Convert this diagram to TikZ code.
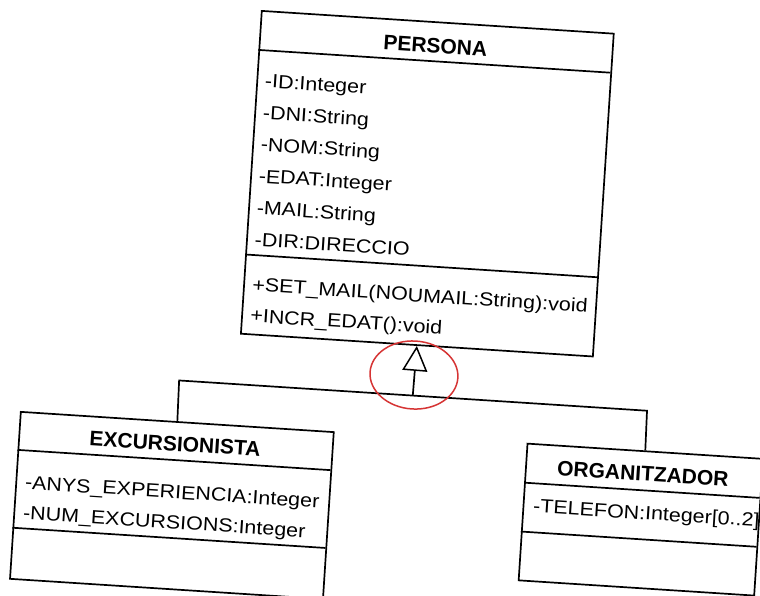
\documentclass[tikz,border=0pt]{standalone}
\usepackage{fontspec}
\setmainfont{Liberation Sans}
\newfontfamily\memberfont{Liberation Sans}[FakeStretch=1.13]
\usetikzlibrary{arrows.meta}
\definecolor{markred}{RGB}{214,52,52}
\tikzset{
  classbox/.style={draw=black, line width=1.7pt, rectangle, anchor=north west, inner sep=0pt},
  divider/.style={draw=black, line width=1.7pt},
  classname/.style={anchor=base, inner sep=0pt, font=\bfseries\fontsize{21}{21}\selectfont},
  member/.style={anchor=base west, inner sep=0pt, font=\memberfont\fontsize{19}{19}\selectfont},
  link/.style={draw=black, line width=1.7pt},
  generalization/.style={link, -{Triangle[open, length=25pt, width=25pt, line width=1.5pt]}},
  highlight/.style={draw=markred, line width=1.5pt}
}
\begin{document}
\begin{tikzpicture}[x=1pt, y=1pt]
\path[use as bounding box] (0,0) rectangle (760,-595);
\fill[white] (0,0) rectangle (760,-595);
\clip (0,0) rectangle (760,-595);
\begin{scope}[shift={(261,-10)}, rotate=-3.7, transform shape]
  % PERSONA
  \node[classbox, minimum width=352.7pt, minimum height=323.5pt] (persona) at (0,0) {};
  \draw[divider] (0,-40) -- (352.7,-40);
  \draw[divider] (0,-245) -- (352.7,-245);
  \node[classname] (personaName) at (176.35,-32) {PERSONA};
  \node[member] (pId)    at (8.5,-77)    {-ID:Integer};
  \node[member] (pDni)   at (8.5,-108.8) {-DNI:String};
  \node[member] (pNom)   at (8.5,-140.6) {-NOM:String};
  \node[member] (pEdat)  at (8.5,-172.4) {-EDAT:Integer};
  \node[member] (pMail)  at (8.5,-204.2) {-MAIL:String};
  \node[member] (pDir)   at (8.5,-236)   {-DIR:DIRECCIO};
  \node[member] (pSetMail) at (9,-281) {+SET\_MAIL(NOUMAIL:String):void};
  \node[member] (pIncr)    at (9,-312) {+INCR\_EDAT():void};

  % EXCURSIONISTA
  \node[classbox, minimum width=313.6pt, minimum height=167.3pt] (excursionista) at (-214.6,-415.7) {};
  \draw[divider] (-214.6,-454.7) -- (99,-454.7);
  \draw[divider] (-214.6,-532.7) -- (99,-532.7);
  \node[classname] (excName) at (-57.8,-445.7) {EXCURSIONISTA};
  \node[member] (eAnys) at (-205,-493.2) {-ANYS\_EXPERIENCIA:Integer};
  \node[member] (eNum)  at (-205,-523.7) {-NUM\_EXCURSIONS:Integer};

  % ORGANITZADOR
  \node[classbox, minimum width=236pt, minimum height=137pt] (organitzador) at (293.1,-414.7) {};
  \draw[divider] (293.1,-454.7) -- (529.1,-454.7);
  \draw[divider] (293.1,-503.7) -- (529.1,-503.7);
  \node[classname] (orgName) at (411.1,-445.2) {ORGANITZADOR};
  \node[member] (oTel) at (303.6,-483.7) {-TELEFON:Integer[0..2]};

  % generalization tree
  \coordinate (busL) at (-57.8,-375);
  \coordinate (bus)  at (176.35,-375);
  \coordinate (busR) at (411.1,-375);
  \draw[link] (excursionista.north) -- (busL) -- (busR) -- (organitzador.north);
  \draw[generalization] (bus) -- (persona.south);

  % hand-drawn circle around the arrow head
  \draw[highlight] (176.2,-354.4) ellipse [x radius=44, y radius=34];
\end{scope}
\end{tikzpicture}
\end{document}
